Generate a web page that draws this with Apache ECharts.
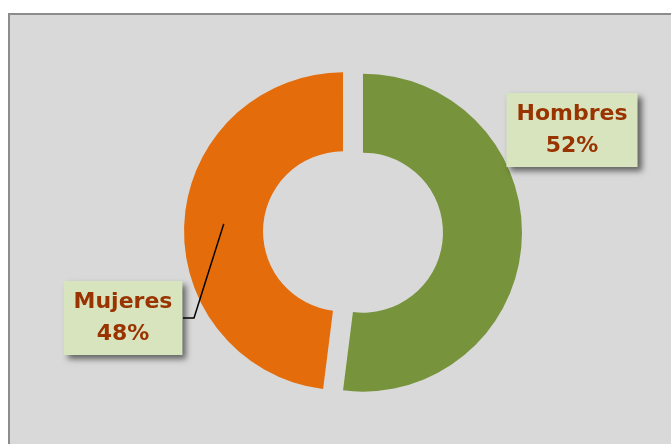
<!DOCTYPE html>
<html>
<head>
<meta charset="utf-8">
<script src="https://cdn.jsdelivr.net/npm/echarts@6/dist/echarts.min.js"></script>
<style>
  html, body { margin: 0; padding: 0; background: #ffffff; }
  #chart { width: 671px; height: 444px; }
</style>
</head>
<body>
<div id="chart"></div>
<script>
// data
var categories = ['Hombres', 'Mujeres'];
var values = [52, 48];
var colors = ['#77933c', '#e46c0a'];

// layout
var center = [353, 232];
var radius = [80, 159];
var offset = 10;
var labelPos = [[572, 130], [123, 318]];
var labelHalfWidth = [66, 60];

var chart = echarts.init(document.getElementById('chart'));

var total = values.reduce(function (a, b) { return a + b; }, 0);

// middle of the ring on the slice's mid angle (slice is pulled out by offset)
function ringMidPoint(idx) {
  var before = 0;
  for (var i = 0; i < idx; i++) before += values[i];
  var mid = (before + values[idx] / 2) / total * Math.PI * 2;
  var dx = Math.sin(mid), dy = -Math.cos(mid);
  var r = (radius[0] + radius[1]) / 2;
  return [center[0] + dx * (offset + r), center[1] + dy * (offset + r)];
}

var graphics = [{
  type: 'rect',
  shape: { x: 9, y: 14, width: 700, height: 500 },
  style: { fill: '#d9d9d9', stroke: '#8c8c8c', lineWidth: 2 },
  z: -10
}];

categories.forEach(function (c, i) {
  graphics.push({
    type: 'text',
    x: labelPos[i][0],
    y: labelPos[i][1],
    z: 100,
    style: {
      text: c + '\n' + values[i] + '%',
      align: 'center',
      verticalAlign: 'middle',
      fontFamily: 'DejaVu Sans',
      fontWeight: 'bold',
      fontSize: 22,
      lineHeight: 32,
      fill: '#993300',
      backgroundColor: '#d7e4bd',
      padding: [5, 10],
      shadowColor: 'rgba(0,0,0,0.55)',
      shadowBlur: 6,
      shadowOffsetX: 4,
      shadowOffsetY: 4
    }
  });
});

// leader line for Mujeres
var s = ringMidPoint(1);
var edgeX = labelPos[1][0] + labelHalfWidth[1];
graphics.push({
  type: 'polyline',
  z: 99,
  shape: { points: [s, [edgeX + 11, labelPos[1][1]], [edgeX, labelPos[1][1]]] },
  style: { stroke: '#000000', lineWidth: 1.5, fill: null }
});

chart.setOption({
  animation: false,
  graphic: graphics,
  series: [{
    type: 'pie',
    center: center,
    radius: radius,
    startAngle: 90,
    clockwise: true,
    selectedMode: 'multiple',
    selectedOffset: offset,
    emphasis: { disabled: true },
    label: { show: false },
    labelLine: { show: false },
    data: categories.map(function (c, i) {
      return {
        name: c,
        value: values[i],
        selected: true,
        itemStyle: { color: colors[i] }
      };
    })
  }]
});
</script>
</body>
</html>
